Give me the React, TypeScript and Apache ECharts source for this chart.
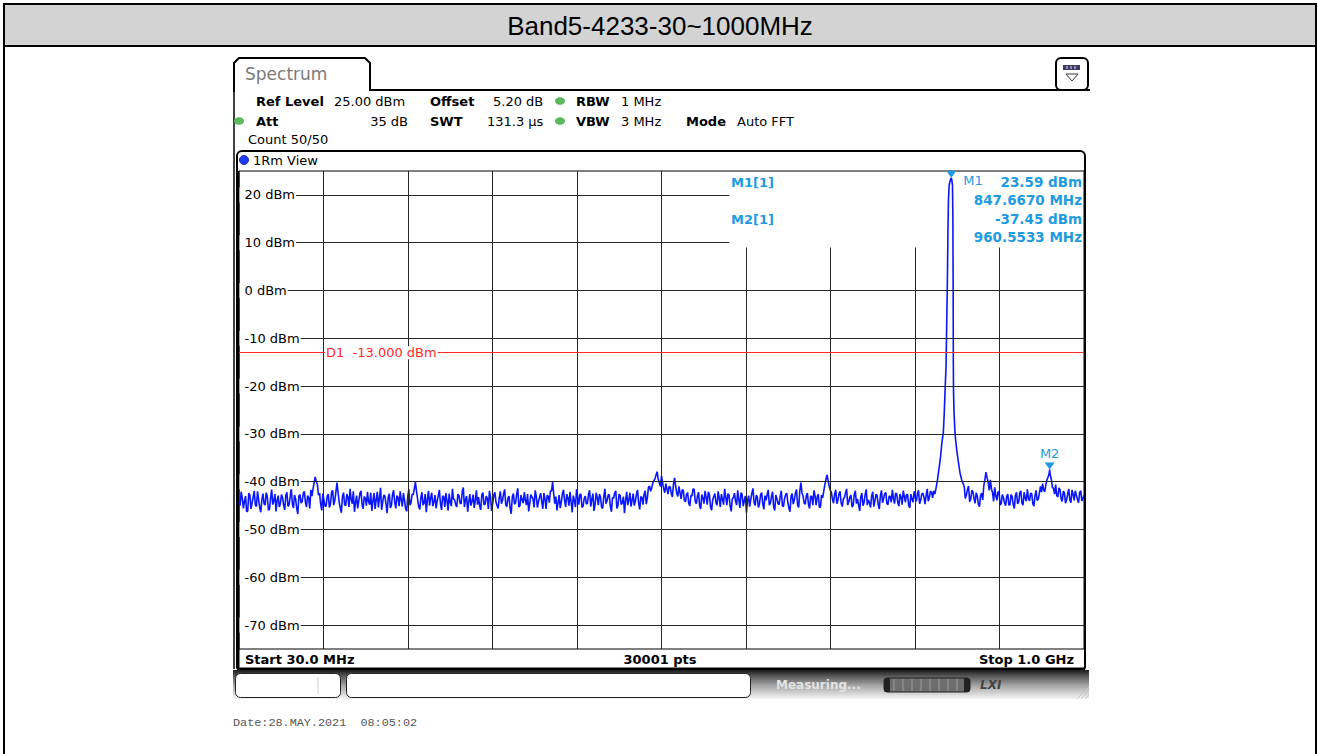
import React, { useEffect, useRef } from "react";
import * as echarts from "echarts";

// ---------- texts ----------
const TITLE = "Band5-4233-30~1000MHz";
const DATE_TEXT = "Date:28.MAY.2021  08:05:02";

// ---------- sweep / axis ----------
const F_START = 30; // MHz
const F_STOP = 1000; // MHz
const SWEEP_POINTS = 30001;
const REF_LEVEL = 25; // dBm (top of screen)
const BOTTOM_LEVEL = -75; // dBm
const Y_LABELS = [20, 10, 0, -10, -20, -30, -40, -50, -60, -70];
const X_DIVISIONS = 10;
const D1_LEVEL = -13;

// marker panel covers grid lines above/right of these values
const PANEL_F = 593;
const PANEL_DB = 9;

// ---------- trace (dBm) ----------
const NOISE_STEP = 2.5; // MHz
const NOISE_A_START = 30;
const NOISE_A = [
  -44.2, -42.1, -45.6, -43.0, -46.1, -42.8, -44.5, -41.9, -45.2, -43.7, -46.4, -42.5, -44.9, -43.1, -45.8, -41.6, -44.0, -46.2, -42.9, -44.6,
  -43.3, -45.9, -42.2, -44.8, -41.4, -45.5, -43.6, -46.8, -42.7, -44.1, -42.0, -45.3, -43.4, -41.7, -41.5, -39.0, -40.6, -42.4, -46.0, -43.8,
  -45.1, -42.6, -44.7, -41.8, -43.9, -40.2, -44.3, -46.5, -42.3, -45.0, -43.2, -41.5, -44.6, -46.3, -42.9, -44.0, -41.9, -45.7, -43.5, -42.1,
  -44.8, -46.1, -42.4, -43.7, -45.4, -41.3, -44.2, -43.0, -46.6, -42.5, -44.9, -41.8, -45.6, -43.3, -42.0, -45.2, -43.9, -46.2, -41.6, -44.4,
  -42.7, -40.1, -43.6, -45.8, -42.2, -44.5, -46.4, -41.9, -43.4, -45.1, -42.8, -44.0, -41.7, -45.9, -43.1, -42.4, -46.0, -44.3, -41.5, -43.8,
  -45.3, -42.9, -44.6, -41.2, -43.7, -46.3, -42.6, -44.1, -45.5, -41.8, -43.2, -45.9, -42.3, -44.7, -43.5, -41.9, -46.1, -42.8, -44.3, -45.6,
  -42.0, -43.9, -41.6, -45.2, -43.0, -46.7, -42.5, -44.4, -41.4, -45.0, -43.8, -42.2, -44.9, -46.2, -42.7, -43.6, -41.8, -45.4, -43.3, -44.1,
  -42.4, -45.7, -43.1, -41.9, -40.1, -44.6, -46.0, -42.8, -44.2, -41.7, -45.3, -43.4, -42.1, -46.4, -43.9, -41.6, -44.8, -42.6, -45.1, -43.0,
  -44.5, -41.8, -43.7, -46.1, -42.3, -44.9, -43.2, -45.6, -41.5, -44.0, -42.7, -46.3, -43.5, -41.9, -45.0, -42.9, -44.4, -46.6, -42.1, -43.8,
  -45.2, -42.5, -44.1, -41.7, -45.8, -43.3, -42.6, -44.7, -41.2, -42.0, -40.3, -39.4, -37.9, -40.2, -38.8, -41.5, -40.4, -42.6, -41.1, -43.2,
  -39.2, -42.4, -41.0, -43.6, -41.8, -44.2, -42.3, -45.1, -43.0, -41.6, -44.6, -42.2, -45.7, -43.4, -41.9, -44.8, -42.7, -46.0, -43.1, -44.4,
  -42.0, -45.3, -43.6, -41.5, -44.9, -42.8, -46.2, -43.3, -44.1, -41.8, -45.5, -42.6, -44.0, -46.5, -42.9, -43.7, -41.4, -45.0, -43.2, -44.6,
  -42.3, -45.8, -43.9, -41.7, -44.5, -42.1, -46.0, -43.5, -44.8, -41.9, -45.2, -42.7, -44.3, -46.3, -42.5, -43.8, -41.6, -45.4, -40.2, -43.0,
  -44.7, -42.4, -45.6, -43.1, -41.8, -44.9, -42.6, -45.3, -43.4, -40.6, -38.6, -40.9, -42.2, -44.5, -41.7, -43.9, -42.0, -45.2, -43.3, -41.5,
  -44.2, -42.8, -45.0, -41.9, -43.6, -46.1, -42.4, -44.4, -41.6, -43.8, -45.4, -42.1, -44.0, -42.9, -45.7, -41.8, -43.5, -42.3, -44.8, -43.0,
  -41.7, -44.6, -42.5, -45.1, -43.2, -41.9, -44.3, -42.7, -45.5, -43.6, -42.0, -44.1, -41.8, -43.9, -42.4, -44.7, -41.5, -43.3, -42.2, -41.9,
];
// samples between the ones above (offset by half a step)
const NOISE_A2_START = 31.25;
const NOISE_A2 = [
  -45.0, -43.4, -44.1, -46.3, -42.4, -45.7, -43.2, -44.9, -42.0, -45.4, -43.8, -44.6, -42.3, -45.9, -43.5, -44.8, -42.6, -43.9, -45.3, -42.7,
  -44.9, -42.9, -45.2, -43.1, -44.6, -42.8, -45.6, -43.0, -44.5, -42.5, -44.3, -42.9, -45.6, -43.0, -40.2, -40.0, -42.8, -44.7, -42.5, -45.1,
  -43.0, -45.4, -42.2, -44.9, -42.1, -42.4, -45.5, -43.1, -44.8, -42.6, -45.3, -43.7, -42.0, -44.4, -45.6, -42.5, -44.7, -43.1, -45.0, -44.2,
  -42.3, -44.0, -45.7, -42.1, -43.4, -45.9, -42.8, -44.7, -43.3, -45.5, -42.6, -44.3, -42.9, -45.1, -43.8, -42.4, -45.6, -43.0, -44.9, -42.6,
  -41.5, -42.0, -45.2, -43.4, -44.9, -42.6, -43.7, -45.0, -42.3, -44.2, -45.6, -42.9, -44.6, -43.0, -45.3, -44.0, -42.5, -45.1, -43.6, -44.8,
  -42.6, -44.5, -42.1, -45.3, -43.0, -44.2, -45.0, -42.7, -43.9, -44.8, -45.1, -42.7, -44.8, -43.0, -45.7, -43.3, -44.5, -42.2, -45.0, -43.4,
  -44.6, -42.5, -44.9, -43.4, -45.6, -43.1, -44.7, -42.6, -45.3, -42.8, -44.5, -43.9, -42.6, -44.6, -43.2, -45.4, -43.0, -44.2, -42.4, -45.7,
  -43.6, -42.8, -44.4, -42.0, -42.5, -43.1, -44.4, -45.5, -42.5, -44.0, -42.6, -45.0, -44.3, -42.9, -45.3, -43.2, -42.7, -45.4, -43.5, -44.7,
  -42.6, -45.2, -42.5, -44.8, -43.4, -42.6, -45.4, -43.1, -44.6, -42.8, -45.1, -43.3, -42.4, -45.6, -42.6, -44.8, -43.1, -43.9, -44.9, -42.3,
  -43.9, -45.0, -42.6, -44.5, -43.1, -44.8, -41.9, -43.4, -40.9, -41.3, -39.8, -38.6, -39.5, -41.0, -40.2, -42.3, -41.5, -41.0, -42.5, -40.5,
  -41.0, -43.1, -42.3, -41.7, -43.9, -42.6, -44.5, -42.9, -41.5, -44.1, -43.0, -45.0, -42.7, -44.6, -43.3, -42.1, -45.2, -43.8, -42.5, -44.9,
  -43.4, -42.6, -44.8, -43.2, -42.5, -45.0, -43.6, -42.4, -44.9, -43.7, -42.3, -45.1, -43.0, -44.0, -45.2, -42.4, -44.3, -42.8, -45.4, -42.7,
  -44.6, -42.9, -42.7, -44.9, -43.1, -45.3, -42.8, -44.6, -43.0, -45.0, -43.5, -42.4, -45.5, -43.0, -44.7, -42.4, -44.9, -42.0, -42.3, -44.5,
  -42.9, -44.8, -43.0, -44.9, -42.9, -43.2, -45.4, -42.8, -42.0, -39.5, -39.8, -41.8, -43.7, -42.6, -44.6, -42.5, -44.5, -43.6, -42.4, -44.9,
  -43.2, -45.3, -42.7, -44.6, -44.9, -43.2, -45.0, -42.7, -44.9, -44.4, -43.0, -45.2, -42.6, -44.8, -42.9, -44.4, -42.5, -44.6, -43.1, -44.3,
  -43.5, -42.4, -44.4, -42.6, -44.8, -43.0, -42.7, -44.9, -42.6, -44.3, -43.3, -42.5, -44.6, -42.6, -43.2, -42.9, -44.1, -42.0, -43.4, -42.6,
];
const PEAK_F = [
  830.0, 831.5, 833.0, 834.5, 835.5, 836.5, 837.5, 838.5, 839.5, 840.5, 841.6, 842.4, 843.1, 843.8, 844.4, 845.2,
  846.2, 847.0, 847.667, 848.3, 849.0, 849.5, 849.8, 850.0, 850.2, 850.8, 851.9, 852.8, 853.9, 855.5, 857.7, 859.6,
];
const PEAK_DB = [
  -41.5, -40.0, -38.0, -36.0, -34.5, -32.5, -31.0, -29.8, -26.0, -21.0, -16.0, -7.0, 1.0, 12.0, 19.0, 22.0,
  22.8, 23.3, 23.59, 23.1, 22.0, 15.0, 0.0, -15.0, -21.0, -25.5, -29.8, -31.5, -33.4, -35.5, -38.2, -39.6,
];
const NOISE_B_START = 862.5;
const NOISE_B = [
  -41.0, -42.8, -40.9, -43.6, -42.1, -44.5, -43.0, -45.2, -42.4, -40.8, -38.0, -40.1, -39.6, -42.3, -41.2, -43.9, -42.0, -44.6, -43.3, -45.0,
  -42.6, -44.8, -43.1, -45.6, -42.2, -44.3, -41.9, -44.9, -43.4, -41.6, -44.0, -42.5, -45.1, -41.8, -43.7, -41.0, -40.4, -42.1, -39.6, -38.3,
  -39.5, -41.4, -40.6, -43.2, -41.7, -44.1, -42.3, -43.8, -41.5, -44.4, -42.6, -41.9, -43.7, -42.2, -44.0, -42.8,
];
const NOISE_B2_START = 863.75;
const NOISE_B2 = [
  -43.5, -41.6, -44.2, -41.8, -43.5, -42.3, -44.7, -42.9, -43.8, -39.5, -39.2, -41.8, -41.5, -44.1, -43.0, -42.2, -44.9, -42.7, -44.4, -43.1,
  -44.9, -42.7, -44.8, -42.9, -44.6, -42.3, -44.5, -42.2, -44.1, -43.5, -42.4, -44.6, -42.9, -43.9, -42.4, -42.2, -41.8, -40.6, -39.0, -38.6,
  -41.2, -42.6, -42.9, -41.3, -43.6, -42.0, -44.5, -42.6, -43.8, -41.7, -43.9, -42.8, -44.4, -41.9, -43.5,
];

// ---------- markers ----------
const MARKER_NAMES = ["M1", "M2"];
const MARKER_F = [847.667, 960.5533];
const MARKER_DB = [23.59, -37.45];

const FONT = '"DejaVu Sans", Verdana, sans-serif';
const MK = "#1e9be2";
const TRACE = "#0a16ff";

function buildTrace(): number[][] {
  const pts: number[][] = [];
  NOISE_A.forEach((v, i) => pts.push([NOISE_A_START + NOISE_STEP * i, v]));
  NOISE_A2.forEach((v, i) => pts.push([NOISE_A2_START + NOISE_STEP * i, v]));
  PEAK_F.forEach((f, i) => pts.push([f, PEAK_DB[i]]));
  NOISE_B.forEach((v, i) => pts.push([NOISE_B_START + NOISE_STEP * i, v]));
  NOISE_B2.forEach((v, i) => pts.push([NOISE_B2_START + NOISE_STEP * i, v]));
  MARKER_F.forEach((f, i) => {
    if (!pts.some((p) => Math.abs(p[0] - f) < 1e-6)) pts.push([f, MARKER_DB[i]]);
  });
  pts.sort((a, b) => a[0] - b[0]);
  return pts;
}

function txt(x: number, y: number, text: string, o: any = {}) {
  return {
    type: "text",
    x,
    y,
    z: o.z ?? 10,
    silent: true,
    style: {
      text,
      fill: o.fill ?? "#000",
      fontSize: o.size ?? 13,
      fontFamily: o.family ?? FONT,
      fontWeight: o.bold ? "bold" : "normal",
      fontStyle: o.italic ? "italic" : "normal",
      textAlign: o.align ?? "left",
      verticalAlign: "middle",
      backgroundColor: o.bg,
      padding: o.pad,
    },
  };
}

function buildOption(): any {
  const divF = (F_STOP - F_START) / X_DIVISIONS;
  const gridLines: any[] = [];
  for (let k = 1; k < X_DIVISIONS; k++) {
    const f = F_START + k * divF;
    const top = f > PANEL_F ? PANEL_DB : REF_LEVEL;
    gridLines.push([{ coord: [f, BOTTOM_LEVEL] }, { coord: [f, top] }]);
  }
  Y_LABELS.forEach((v) => {
    const end = v > PANEL_DB ? PANEL_F : F_STOP;
    gridLines.push([{ coord: [F_START, v] }, { coord: [end, v] }]);
  });

  return {
    animation: false,
    grid: { left: 239, top: 171, width: 845, height: 478, show: false },
    xAxis: {
      type: "value",
      min: F_START,
      max: F_STOP,
      axisLine: { show: false },
      axisTick: { show: false },
      axisLabel: { show: false },
      splitLine: { show: false },
    },
    yAxis: {
      type: "value",
      min: BOTTOM_LEVEL,
      max: REF_LEVEL,
      interval: 5,
      axisLine: { show: false },
      axisTick: { show: false },
      axisLabel: { show: false },
      splitLine: { show: false },
    },
    series: [
      {
        type: "line",
        name: "grid",
        data: [],
        silent: true,
        z: 1,
        markLine: {
          silent: true,
          animation: false,
          symbol: ["none", "none"],
          label: { show: false },
          lineStyle: { color: "#262626", width: 1, type: "solid" },
          data: gridLines,
        },
      },
      {
        type: "line",
        name: "1Rm",
        data: buildTrace(),
        showSymbol: false,
        symbol: "none",
        silent: true,
        z: 3,
        lineStyle: { color: TRACE, width: 1.6 },
        markLine: {
          silent: true,
          animation: false,
          symbol: ["none", "none"],
          label: { show: false },
          lineStyle: { color: "#ff2a2a", width: 1, type: "solid" },
          data: [{ yAxis: D1_LEVEL }],
        },
        markPoint: {
          silent: true,
          animation: false,
          symbol: "triangle",
          symbolSize: [10, 7],
          symbolRotate: 180,
          symbolOffset: [0, "-50%"],
          itemStyle: { color: MK },
          data: MARKER_NAMES.map((n, i) => ({
            name: n,
            coord: [MARKER_F[i], MARKER_DB[i]],
            label: {
              show: true,
              formatter: n,
              color: MK,
              fontSize: 13,
              fontFamily: FONT,
              position: i === 0 ? "right" : "top",
              distance: i === 0 ? 7 : 3,
              offset: i === 0 ? [0, 6] : [0, 0],
            },
          })),
        },
      },
    ],
  };
}

function buildGraphics(xPix: (f: number) => number, yPix: (v: number) => number): any[] {
  const g: any[] = [];
  // page table
  g.push({ type: "rect", z: 0, silent: true, shape: { x: 4, y: 4, width: 1312, height: 42 }, style: { fill: "#d3d3d3", stroke: "#000", lineWidth: 2 } });
  g.push({ type: "line", z: 0, silent: true, shape: { x1: 4, y1: 46, x2: 4, y2: 760 }, style: { stroke: "#000", lineWidth: 2 } });
  g.push({ type: "line", z: 0, silent: true, shape: { x1: 1316, y1: 46, x2: 1316, y2: 760 }, style: { stroke: "#000", lineWidth: 2 } });
  g.push(txt(660, 26, TITLE, { size: 26, family: '"Liberation Sans", Arial, sans-serif', align: "center" }));

  // instrument screen: tab + header
  g.push({
    type: "polyline", z: 0, silent: true,
    shape: { points: [[234, 92], [234, 63], [239, 58], [365, 58], [370, 63], [370, 90], [1090, 90]] },
    style: { stroke: "#000", lineWidth: 2, fill: null },
  });
  g.push({ type: "line", z: 0, silent: true, shape: { x1: 234, y1: 90, x2: 234, y2: 669 }, style: { stroke: "#000", lineWidth: 1.5 } });
  g.push(txt(245, 74, "Spectrum", { size: 17, fill: "#7a7a7a" }));
  // button top right
  g.push({ type: "rect", z: 0, silent: true, shape: { x: 1056, y: 58, width: 32, height: 32, r: 5 }, style: { fill: "#fff", stroke: "#000", lineWidth: 2 } });
  g.push({ type: "rect", z: 1, silent: true, shape: { x: 1063, y: 65, width: 17, height: 5 }, style: { fill: "#3b3b66" } });
  [1067, 1071, 1075].forEach((x) => g.push({ type: "line", z: 2, silent: true, shape: { x1: x, y1: 66, x2: x, y2: 69 }, style: { stroke: "#e6e6f0", lineWidth: 1 } }));
  g.push({ type: "polygon", z: 1, silent: true, shape: { points: [[1066, 74], [1078, 74], [1072, 81]] }, style: { fill: "#fff", stroke: "#333", lineWidth: 1 } });

  const dot = (cx: number, cy: number, color: string) =>
    ({ type: "ellipse", z: 5, silent: true, shape: { cx, cy, rx: 5, ry: 3.8 }, style: { fill: color } });
  // row 1
  g.push(txt(256, 101, "Ref Level", { bold: true }));
  g.push(txt(334, 101, "25.00 dBm"));
  g.push(txt(430, 101, "Offset", { bold: true }));
  g.push(txt(493, 101, "5.20 dB"));
  g.push(dot(560, 101, "#5cb85c"));
  g.push(txt(576, 101, "RBW", { bold: true }));
  g.push(txt(621, 101, "1 MHz"));
  // row 2
  g.push(dot(239, 121, "#5cb85c"));
  g.push(txt(256, 121, "Att", { bold: true }));
  g.push(txt(408, 121, "35 dB", { align: "right" }));
  g.push(txt(430, 121, "SWT", { bold: true }));
  g.push(txt(487, 121, "131.3 µs"));
  g.push(dot(560, 121, "#5cb85c"));
  g.push(txt(576, 121, "VBW", { bold: true }));
  g.push(txt(621, 121, "3 MHz"));
  g.push(txt(686, 121, "Mode", { bold: true }));
  g.push(txt(737, 121, "Auto FFT"));
  // row 3
  g.push(txt(248, 139, "Count 50/50"));

  // view box
  g.push({ type: "rect", z: 0, silent: true, shape: { x: 237, y: 151, width: 848, height: 518, r: [5, 5, 2, 2] }, style: { fill: "#fff", stroke: "#000", lineWidth: 2 } });
  g.push({ type: "line", z: 0, silent: true, shape: { x1: 237, y1: 669, x2: 1085, y2: 669 }, style: { stroke: "#000", lineWidth: 3 } });
  g.push({ type: "circle", z: 5, silent: true, shape: { cx: 244, cy: 160, r: 4.5 }, style: { fill: "#1d3cff", stroke: "#0a1a80", lineWidth: 0.8 } });
  g.push(txt(253, 160, "1Rm View"));

  // plot frame from axis extents
  const x0 = xPix(F_START), x1 = xPix(F_STOP), y0 = yPix(REF_LEVEL), y1 = yPix(BOTTOM_LEVEL);
  g.push({ type: "rect", z: 2, silent: true, shape: { x: x0, y: y0, width: x1 - x0, height: y1 - y0 }, style: { fill: null, stroke: "#000", lineWidth: 1 } });
  g.push({ type: "line", z: 2, silent: true, shape: { x1: x0 - 0.5, y1: y0, x2: x0 - 0.5, y2: y1 + 19 }, style: { stroke: "#000", lineWidth: 2 } });

  // y labels
  Y_LABELS.forEach((v) => g.push(txt(x0 + 0.5, yPix(v), `${v} dBm`, { bg: "#fff", pad: [1, 1, 1, 5] })));

  // display line label
  g.push(txt(325, yPix(D1_LEVEL), `D1  ${D1_LEVEL.toFixed(3)} dBm`, { fill: "#ff2a2a", bg: "#fff", pad: [0, 1, 0, 1] }));

  // marker readout panel
  g.push(txt(731, 182, `${MARKER_NAMES[0]}[1]`, { fill: MK, bold: true }));
  g.push(txt(731, 219, `${MARKER_NAMES[1]}[1]`, { fill: MK, bold: true }));
  g.push(txt(1082, 182, `${MARKER_DB[0].toFixed(2)} dBm`, { fill: MK, bold: true, align: "right", size: 13.5 }));
  g.push(txt(1082, 200, `${MARKER_F[0].toFixed(4)} MHz`, { fill: MK, bold: true, align: "right", size: 13.5 }));
  g.push(txt(1082, 219, `${MARKER_DB[1].toFixed(2)} dBm`, { fill: MK, bold: true, align: "right", size: 13.5 }));
  g.push(txt(1082, 237, `${MARKER_F[1].toFixed(4)} MHz`, { fill: MK, bold: true, align: "right", size: 13.5 }));

  // bottom row
  g.push(txt(245, 659, `Start ${F_START.toFixed(1)} MHz`, { bold: true }));
  g.push(txt(660, 659, `${SWEEP_POINTS} pts`, { bold: true, align: "center" }));
  g.push(txt(1074, 659, `Stop ${(F_STOP / 1000).toFixed(1)} GHz`, { bold: true, align: "right" }));

  // status bar
  g.push({
    type: "rect", z: 0, silent: true, shape: { x: 233, y: 670, width: 856, height: 29 },
    style: {
      fill: {
        type: "linear", x: 0, y: 0, x2: 0, y2: 1,
        colorStops: [
          { offset: 0, color: "#1a1a1a" },
          { offset: 0.2, color: "#555" },
          { offset: 0.55, color: "#a8a8a8" },
          { offset: 1, color: "#f6f6f6" },
        ],
      },
    },
  });
  g.push({ type: "rect", z: 1, silent: true, shape: { x: 235.5, y: 673.5, width: 105, height: 24, r: 5 }, style: { fill: "#fff", stroke: "#222", lineWidth: 1 } });
  g.push({ type: "line", z: 2, silent: true, shape: { x1: 318, y1: 677, x2: 318, y2: 694 }, style: { stroke: "#ddd", lineWidth: 1.5 } });
  g.push({ type: "rect", z: 1, silent: true, shape: { x: 346.5, y: 673.5, width: 404, height: 24, r: 5 }, style: { fill: "#fff", stroke: "#222", lineWidth: 1 } });
  g.push(txt(776, 685, "Measuring...", { fill: "#e4e4e4", bold: true, size: 12 }));
  g.push({ type: "rect", z: 1, silent: true, shape: { x: 884, y: 678, width: 86, height: 14, r: 3 }, style: { fill: "#6e6e6e", stroke: "#222", lineWidth: 1 } });
  [894, 903, 912, 921, 930, 939, 948, 957].forEach((x) =>
    g.push({ type: "line", z: 2, silent: true, shape: { x1: x, y1: 679, x2: x, y2: 691 }, style: { stroke: "#9c9c9c", lineWidth: 1 } })
  );
  g.push({ type: "rect", z: 2, silent: true, shape: { x: 884, y: 678, width: 6, height: 14, r: [3, 0, 0, 3] }, style: { fill: "#222" } });
  g.push({ type: "rect", z: 2, silent: true, shape: { x: 964, y: 678, width: 6, height: 14, r: [0, 3, 3, 0] }, style: { fill: "#222" } });
  g.push(txt(980, 685, "LXI", { fill: "#444", bold: true, italic: true, size: 12 }));
  [0, 4, 8].forEach((d) =>
    g.push({ type: "line", z: 2, silent: true, shape: { x1: 1077 + d, y1: 699, x2: 1089, y2: 687 + d }, style: { stroke: "#c8c8c8", lineWidth: 1 } })
  );

  // date
  g.push(txt(233, 723, DATE_TEXT, { fill: "#555", size: 11.8, family: '"Liberation Mono", "Courier New", monospace' }));
  return g;
}

export default function App() {
  const ref = useRef<HTMLDivElement>(null);
  useEffect(() => {
    if (!ref.current) return;
    const chart = echarts.init(ref.current, null, { renderer: "svg" });
    chart.setOption(buildOption());
    const xPix = (f: number) => chart.convertToPixel({ xAxisIndex: 0 }, f) as number;
    const yPix = (v: number) => chart.convertToPixel({ yAxisIndex: 0 }, v) as number;
    chart.setOption({ graphic: buildGraphics(xPix, yPix) });
    return () => chart.dispose();
  }, []);
  return (
    <div
      ref={ref}
      style={{ position: "absolute", left: 0, top: 0, width: 1318, height: 754, background: "#fff" }}
    />
  );
}
